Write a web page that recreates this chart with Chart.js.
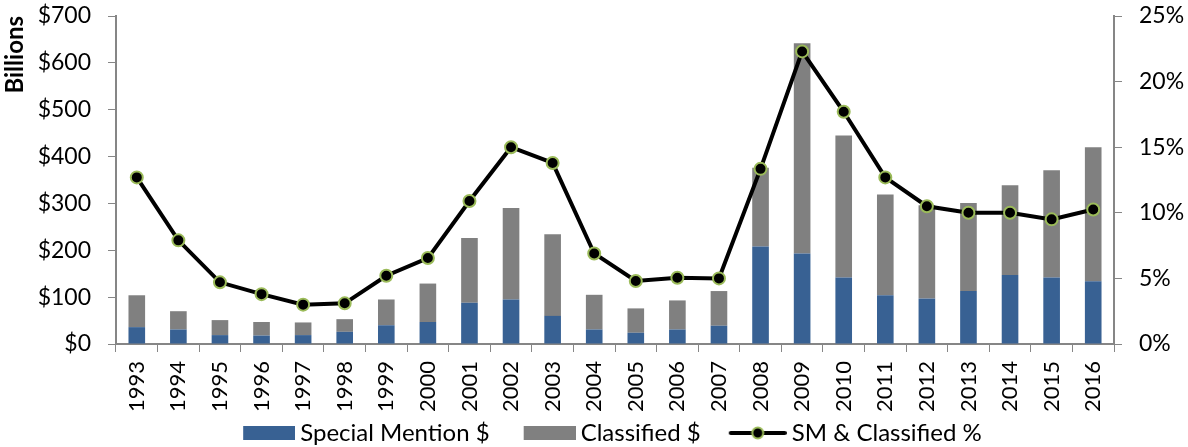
<!DOCTYPE html>
<html>
<head>
<meta charset="utf-8">
<script src="https://cdn.jsdelivr.net/npm/chart.js@4.4.1/dist/chart.umd.min.js"></script>
<style>
  html, body { margin: 0; padding: 0; background: #fff; }
  #wrap { width: 1188px; height: 447px; position: relative; }
</style>
</head>
<body>
<div id="wrap"><canvas id="c" width="1188" height="447"></canvas></div>
<script>
const years = ['1993','1994','1995','1996','1997','1998','1999','2000','2001','2002','2003','2004','2005','2006','2007','2008','2009','2010','2011','2012','2013','2014','2015','2016'];
const specialMention = [36, 31, 19, 18, 19, 26, 40, 47, 88, 95, 60, 31, 24, 31, 39, 208, 193, 142, 104, 97, 113, 147, 142, 134];
const totalBillions = [104, 70, 51, 47, 46, 53, 95, 129, 226, 290, 234, 105, 76, 93, 113, 376, 642, 445, 319, 296, 301, 339, 371, 420];
const classified = totalBillions.map((t, i) => t - specialMention[i]);
const smClassifiedPct = [12.7, 7.9, 4.7, 3.8, 3.0, 3.1, 5.2, 6.55, 10.9, 15.0, 13.8, 6.9, 4.8, 5.05, 5.0, 13.35, 22.3, 17.7, 12.7, 10.5, 10.0, 10.0, 9.5, 10.25];
const leftTicks = { min: 0, max: 700, step: 100 };
const rightTicks = { min: 0, max: 25, step: 5 };

const FONT = 'Lato, "Open Sans", sans-serif';
const BLUE = '#386193';
const GRAY = '#808080';
const GREEN = '#9bbb59';
const AXIS = '#868686';

Chart.defaults.font.family = FONT;
Chart.defaults.color = '#000';

// legend icons: transparent on the left, visible symbol on the right part
const ICON_W = 86, ICON_H = 16;
function boxIcon(color) {
  const cv = document.createElement('canvas');
  cv.width = ICON_W; cv.height = ICON_H;
  const g = cv.getContext('2d');
  g.fillStyle = color; g.fillRect(ICON_W - 52, 1, 52, 14);
  return cv;
}
function lineIconMake() {
  const cv = document.createElement('canvas');
  cv.width = ICON_W; cv.height = ICON_H;
  const g = cv.getContext('2d');
  const x0 = ICON_W - 56, x1 = ICON_W - 2, xm = (x0 + x1) / 2;
  g.strokeStyle = '#000'; g.lineWidth = 4; g.lineCap = 'round';
  g.beginPath(); g.moveTo(x0, 8); g.lineTo(x1, 8); g.stroke();
  g.beginPath(); g.arc(xm, 8, 5.5, 0, Math.PI * 2);
  g.fillStyle = '#000'; g.fill();
  g.strokeStyle = GREEN; g.lineWidth = 2; g.stroke();
  return cv;
}
const legendIcons = [boxIcon(BLUE), boxIcon(GRAY), lineIconMake()];

const noVerticalPadding = (s) => { s.paddingTop = 0; s.paddingBottom = 0; };

new Chart(document.getElementById('c'), {
  data: {
    labels: years,
    datasets: [
      { type: 'bar', label: 'Special Mention $', data: specialMention, backgroundColor: BLUE, borderWidth: 0, yAxisID: 'y', order: 2, barPercentage: 0.4, categoryPercentage: 1.0 },
      { type: 'bar', label: 'Classified $', data: classified, backgroundColor: GRAY, borderWidth: 0, yAxisID: 'y', order: 2, barPercentage: 0.4, categoryPercentage: 1.0 },
      { type: 'line', label: 'SM & Classified %', data: smClassifiedPct, yAxisID: 'y1', order: 0, borderColor: '#000', borderWidth: 4, tension: 0,
        pointRadius: 6, pointBackgroundColor: '#000', pointBorderColor: GREEN, pointBorderWidth: 2, pointHoverRadius: 6 }
    ]
  },
  options: {
    responsive: false,
    animation: false,
    layout: { padding: { top: 16, left: 0, right: -10, bottom: -8 } },
    plugins: {
      tooltip: { enabled: false },
      legend: {
        position: 'bottom',
        labels: {
          font: { size: 24, family: FONT },
          color: '#000',
          usePointStyle: true,
          pointStyleWidth: 72,
          boxHeight: 14,
          padding: 7,
          generateLabels: (chart) => chart.data.datasets.map((ds, i) => ({
            text: ds.label,
            fillStyle: ds.type === 'line' ? '#000' : ds.backgroundColor,
            strokeStyle: ds.type === 'line' ? '#000' : ds.backgroundColor,
            lineWidth: 0,
            pointStyle: legendIcons[i],
            hidden: false,
            datasetIndex: i,
            fontColor: '#000'
          }))
        }
      }
    },
    scales: {
      x: {
        stacked: true,
        grid: { display: true, drawOnChartArea: false, drawTicks: true, tickLength: 8, color: AXIS, offset: true },
        border: { display: true, color: AXIS, width: 2 },
        ticks: { autoSkip: false, minRotation: 90, maxRotation: 90, padding: 9, font: { size: 22 }, color: '#000' },
        afterFit: (s) => { s.height = 70; }
      },
      y: {
        stacked: true,
        position: 'left',
        min: leftTicks.min, max: leftTicks.max,
        grid: { display: true, drawOnChartArea: false, drawTicks: true, tickLength: 8, color: AXIS },
        border: { display: true, color: AXIS, width: 2 },
        ticks: { stepSize: leftTicks.step, padding: 17, font: { size: 23 }, color: '#000', callback: (v) => '$' + v },
        title: { display: true, text: 'Billions', align: 'end', font: { size: 24, weight: 'bold' }, color: '#000', padding: { top: 1, bottom: 0 } },
        afterFit: (s) => { s.width = 116; noVerticalPadding(s); }
      },
      y1: {
        position: 'right',
        min: rightTicks.min, max: rightTicks.max,
        grid: { display: true, drawOnChartArea: false, drawTicks: true, tickLength: 8, color: AXIS },
        border: { display: true, color: AXIS, width: 2 },
        ticks: { stepSize: rightTicks.step, padding: 17, font: { size: 23 }, color: '#000', callback: (v) => v + '%' },
        afterFit: (s) => { s.width = 84; noVerticalPadding(s); }
      }
    }
  }
});
</script>
</body>
</html>
